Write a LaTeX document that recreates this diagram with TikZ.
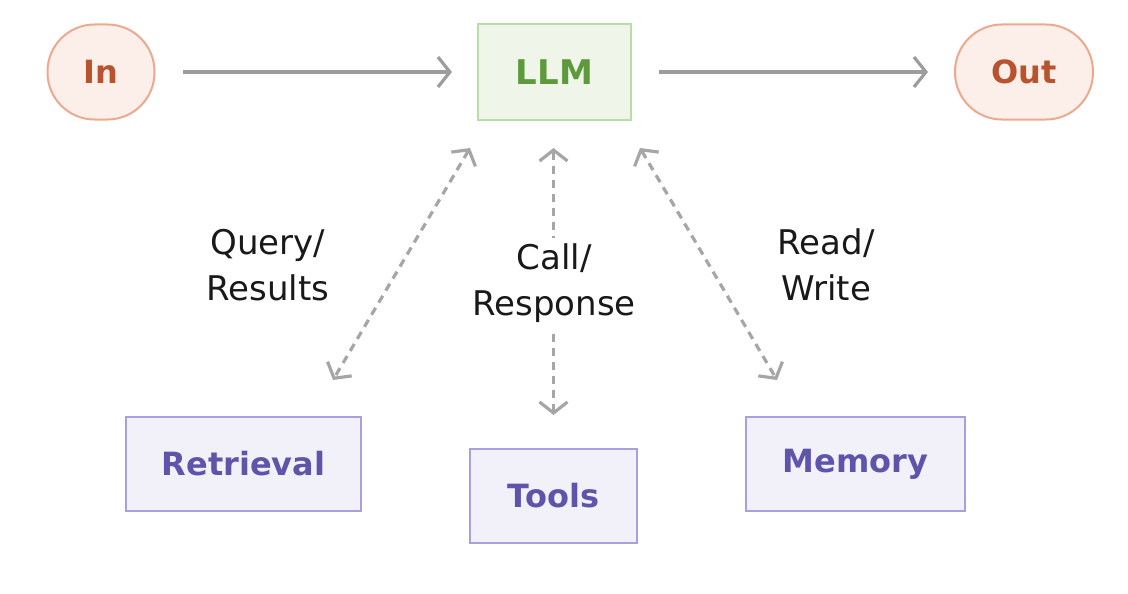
\documentclass[tikz,border=0pt]{standalone}
\usepackage{fontspec}
\setmainfont{DejaVu Sans}
\usetikzlibrary{arrows.meta}
\definecolor{peachfill}{HTML}{FCEEE8}
\definecolor{peachline}{HTML}{EBAA90}
\definecolor{peachtext}{HTML}{B9532F}
\definecolor{greenfill}{HTML}{EFF5E9}
\definecolor{greenline}{HTML}{B8DDA5}
\definecolor{greentext}{HTML}{5C9A3C}
\definecolor{purpfill}{HTML}{F2F1FA}
\definecolor{purpline}{HTML}{A69FE0}
\definecolor{purptext}{HTML}{5E55AB}
\definecolor{arrowgray}{HTML}{9C9C9C}
\definecolor{dashgray}{HTML}{A6A6A6}
\tikzset{
  pill/.style={draw=peachline, fill=peachfill, line width=2pt, rounded corners=47pt,
    text=peachtext, font=\fontsize{32}{36}\selectfont\bfseries, minimum height=95pt, inner sep=0pt},
  llmbox/.style={draw=greenline, fill=greenfill, line width=2pt,
    text=greentext, font=\fontsize{34}{38}\selectfont\bfseries, minimum width=153pt, minimum height=95pt},
  compbox/.style={draw=purpline, fill=purpfill, line width=2pt,
    text=purptext, font=\fontsize{32}{36}\selectfont\bfseries, minimum height=94pt},
  flow/.style={draw=arrowgray, line width=3.2pt, -{Straight Barb[length=12pt,width=30pt,line width=3.2pt]}},
  dflow/.style={draw=dashgray, line width=3.2pt, dash pattern=on 8pt off 6pt,
    {Straight Barb[length=11pt,width=28pt,line width=3.2pt]}-{Straight Barb[length=11pt,width=28pt,line width=3.2pt]}},
  lbl/.style={font=\fontsize{34}{46}\selectfont, text=black!90, align=center}
}
\begin{document}
\begin{tikzpicture}[x=1pt,y=-1pt]
\useasboundingbox (0,0) rectangle (1128,594);
\node[pill, minimum width=107pt] (in) at (101,72) {In};
\node[llmbox] (llm) at (554.5,72) {LLM};
\node[pill, minimum width=138pt] (out) at (1024,72) {Out};
\node[compbox, minimum width=235pt] (ret) at (243.5,464) {Retrieval};
\node[compbox, minimum width=167pt] (tools) at (553.5,496) {Tools};
\node[compbox, minimum width=219pt] (mem) at (855.5,464) {Memory};

\coordinate (inEnd) at (183,72);
\coordinate (llmIn) at (452,72);
\coordinate (llmOut) at (659,72);
\coordinate (outIn) at (928,72);
\draw[flow] (inEnd) -- (llmIn);
\draw[flow] (llmOut) -- (outIn);

\coordinate (ltop) at (470,148);
\coordinate (lbot) at (333,380);
\coordinate (rtop) at (640,148);
\coordinate (rbot) at (777,380);
\coordinate (mtop) at (553.5,148);
\coordinate (mbot) at (553.5,415);
\draw[dflow] (ltop) -- (lbot);
\draw[dflow] (rtop) -- (rbot);
\draw[dflow] (mtop) -- (mbot);

\node[lbl] (qr) at (268,265) {Query/\\Results};
\node[lbl, fill=white, inner sep=6pt] (cr) at (554,283) {Call/\\Response};
\node[lbl] (rw) at (826,265) {Read/\\Write};
\end{tikzpicture}
\end{document}
